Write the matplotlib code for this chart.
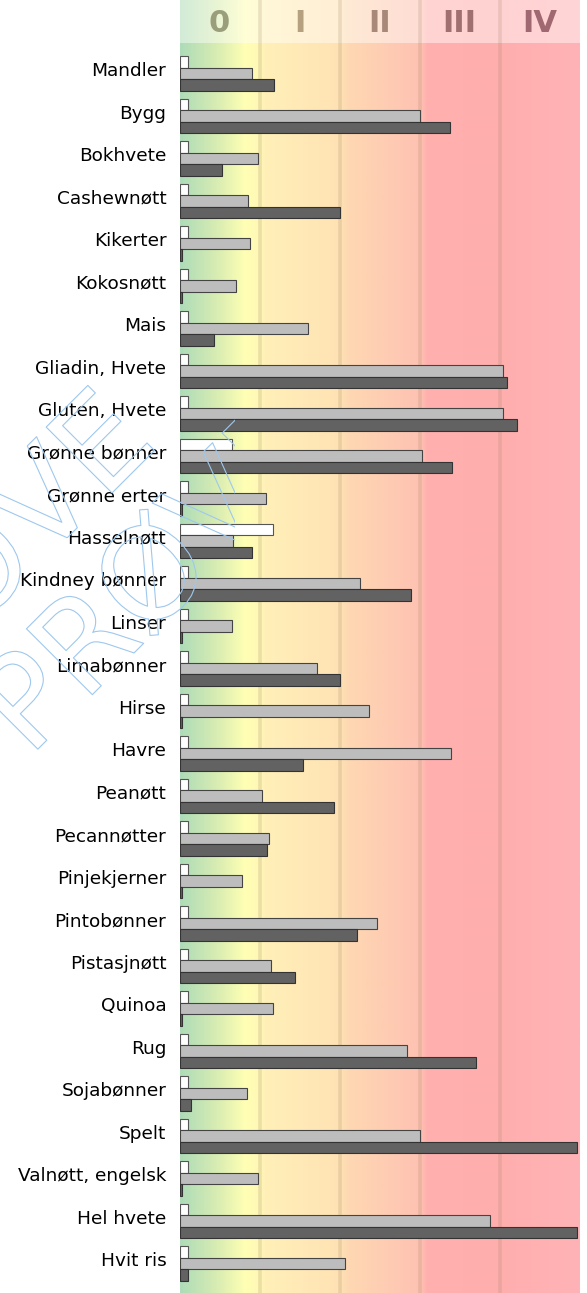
# allergy_classes_chart.py
# Horisontalt stolpediagram: tre målinger per matvare, bakgrunn farget etter klasse 0-IV

import numpy as np
import matplotlib.pyplot as plt
from matplotlib import patheffects
from matplotlib.colors import LinearSegmentedColormap
from matplotlib.transforms import Bbox


# =========================
# 1. Data
# =========================
categories = [
    "Mandler", "Bygg", "Bokhvete", "Cashewnøtt", "Kikerter", "Kokosnøtt",
    "Mais", "Gliadin, Hvete", "Gluten, Hvete", "Grønne bønner", "Grønne erter",
    "Hasselnøtt", "Kindney bønner", "Linser", "Limabønner", "Hirse", "Havre",
    "Peanøtt", "Pecannøtter", "Pinjekjerner", "Pintobønner", "Pistasjnøtt",
    "Quinoa", "Rug", "Sojabønner", "Spelt", "Valnøtt, engelsk", "Hel hvete",
    "Hvit ris",
]

# verdier i klasse-enheter (0-5)
white_values = [
    0.11, 0.11, 0.11, 0.11, 0.11, 0.11,
    0.11, 0.11, 0.11, 0.66, 0.11,
    1.165, 0.11, 0.11, 0.11, 0.11, 0.11,
    0.11, 0.11, 0.11, 0.11, 0.11,
    0.11, 0.11, 0.11, 0.11, 0.11, 0.11,
    0.11,
]
grey_values = [
    0.91, 3.00, 0.98, 0.85, 0.88, 0.71,
    1.60, 4.04, 4.04, 3.03, 1.08,
    0.67, 2.26, 0.66, 1.72, 2.37, 3.39,
    1.035, 1.12, 0.785, 2.47, 1.14,
    1.17, 2.84, 0.84, 3.00, 0.985, 3.885,
    2.07,
]
dark_values = [
    1.185, 3.38, 0.53, 2.00, 0.035, 0.035,
    0.43, 4.09, 4.215, 3.40, 0.035,
    0.91, 2.89, 0.035, 2.00, 0.035, 1.54,
    1.93, 1.09, 0.035, 2.22, 1.44,
    0.035, 3.70, 0.14, 4.97, 0.035, 4.97,
    0.10,
]

class_labels = ["0", "I", "II", "III", "IV"]
class_label_colors = ["#9a9e7a", "#b5a080", "#a88878", "#a07070", "#a06870"]

watermark = "PRØVE"


# =========================
# 2. Figur og akser
# =========================
W, H = 587, 1293
fig = plt.figure(figsize=(W / 100, H / 100), dpi=100)
ax = fig.add_axes([179.5 / W, 0, 400 / W, 1])

n = len(categories)
y = np.arange(n)
ax.set_xlim(0, 5)
y_top = -73.3 / 42.51
y_bottom = (H - 73.3) / 42.51
ax.set_ylim(y_bottom, y_top)


# =========================
# 3. Bakgrunn (gradient etter klasse)
# =========================
stops = [
    (0.00, "#aedcb8"),
    (0.09, "#d8ecb2"),
    (0.16, "#ffffb4"),
    (0.20, "#fff7b6"),
    (0.21, "#fff0b8"),
    (0.40, "#ffe2b4"),
    (0.42, "#fed8b2"),
    (0.60, "#ffc2b2"),
    (0.62, "#ffb0ae"),
    (0.80, "#ffaeae"),
    (1.00, "#ffb3b6"),
]
cmap = LinearSegmentedColormap.from_list("klasser", stops)
grad = np.linspace(0, 1, 500).reshape(1, -1)
ax.imshow(grad, cmap=cmap, aspect="auto", extent=(0, 5, y_bottom, y_top),
          zorder=0, interpolation="bilinear")

# lys header-stripe
header_bottom = y_top + 43 / 42.51
ax.fill_between([0, 5], y_top, header_bottom, color="white", alpha=0.45,
                linewidth=0, zorder=1)

# skillelinjer mellom klassene
for xv in [1, 2, 3, 4]:
    ax.axvline(xv, color="#a08060", alpha=0.2, linewidth=2.6, zorder=1)

# klasse-etiketter
for i, (lab, col) in enumerate(zip(class_labels, class_label_colors)):
    ax.text(i + 0.5, y_top + 23 / 42.51, lab, ha="center", va="center",
            fontsize=22, fontweight="bold", color=col, zorder=2)


# =========================
# 4. Stolper
# =========================
h = 0.27
ax.barh(y - h, white_values, height=h, color="white", edgecolor="#555555",
        linewidth=0.8, zorder=3)
ax.barh(y, grey_values, height=h, color="#bdbdbd", edgecolor="#444444",
        linewidth=0.8, zorder=3)
ax.barh(y + h, dark_values, height=h, color="#626262", edgecolor="#333333",
        linewidth=0.8, zorder=3)


# =========================
# 5. Akser og etiketter
# =========================
ax.set_yticks(y - 0.1)
ax.set_yticklabels(categories, fontsize=13.3)
ax.tick_params(axis="y", length=0, pad=9.5)
ax.set_xticks([])
for s in ax.spines.values():
    s.set_visible(False)


# =========================
# 6. Vannmerke (to linjer, skrått)
# =========================
clip = Bbox.from_extents(0, 0, 235, H)
for x0, y0 in [(29, 758), (-147, 752)]:
    t = fig.text(x0 / W, 1 - y0 / H, watermark, fontsize=92, rotation=45,
                 rotation_mode="anchor", ha="left", va="baseline",
                 color=(1, 1, 1, 0), zorder=10,
                 path_effects=[patheffects.Stroke(linewidth=0.8,
                                                  foreground="#9ec8ee")])
    t.set_clip_box(clip)
    t.set_clip_on(True)

fig.savefig("out.png", dpi=100)
